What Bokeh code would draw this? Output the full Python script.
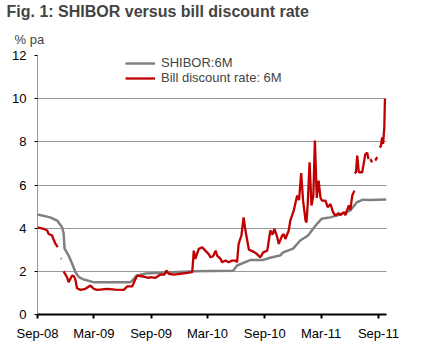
import numpy as np
import pandas as pd
from bokeh.plotting import figure
from bokeh.models import (Title, FixedTicker, DatetimeTickFormatter, Legend,
                          LegendItem, Range1d, ColumnDataSource)
from bokeh.embed import file_html
from bokeh.resources import INLINE

nan = np.nan

# SHIBOR 6M (% pa)
shibor_dates = ["2008-09-01", "2008-10-12", "2008-11-03", "2008-11-19", "2008-11-24",
                "2008-11-27", "2008-12-10", "2008-12-21", "2009-01-01", "2009-01-12",
                "2009-01-28", "2009-02-28", "2009-06-26", "2009-07-06", "2009-07-16",
                "2009-08-14", "2010-01-15", "2010-05-22", "2010-06-04", "2010-07-16",
                "2010-08-28", "2010-09-18", "2010-10-20", "2010-10-30", "2010-12-01",
                "2010-12-24", "2011-01-18", "2011-02-10", "2011-03-03", "2011-03-30",
                "2011-04-20", "2011-06-02", "2011-06-24", "2011-07-14", "2011-08-05",
                "2011-09-27"]
shibor_vals = [4.63, 4.5, 4.35, 4.04, 3.75,
               3.05, 2.73, 2.36, 1.96, 1.73,
               1.62, 1.5, 1.5, 1.62, 1.8,
               1.9, 2.0, 2.03, 2.27, 2.52,
               2.53, 2.63, 2.73, 2.88, 3.05,
               3.43, 3.66, 4.1, 4.44, 4.5,
               4.58, 4.81, 5.2, 5.32, 5.31,
               5.33]

# Bill discount rate 6M (% pa); nan = gap in series
bill_dates = ["2008-09-01", "2008-09-21", "2008-10-02", "2008-10-07", "2008-10-18",
              "2008-10-23", "2008-10-29", "2008-11-05", "2008-11-10",
              "2008-11-15", "2008-11-17", "2008-11-20",
              "2008-11-24", "2008-11-30", "2008-12-04", "2008-12-10", "2008-12-21",
              "2008-12-27", "2009-01-01", "2009-01-06", "2009-01-17", "2009-02-02",
              "2009-02-18", "2009-03-01", "2009-03-12", "2009-04-13", "2009-05-09",
              "2009-06-05", "2009-06-16", "2009-07-02", "2009-07-13", "2009-07-18",
              "2009-08-08", "2009-08-24", "2009-08-30", "2009-09-15", "2009-10-01",
              "2009-10-14", "2009-10-20", "2009-10-28", "2009-11-13", "2009-12-15",
              "2010-01-11", "2010-01-16", "2010-01-21", "2010-02-01", "2010-02-12",
              "2010-02-22", "2010-03-05", "2010-03-11", "2010-03-19", "2010-03-27",
              "2010-04-01", "2010-04-12", "2010-04-17", "2010-04-28", "2010-05-08",
              "2010-05-19", "2010-05-30", "2010-06-04", "2010-06-09", "2010-06-18",
              "2010-06-25", "2010-07-01", "2010-07-12", "2010-07-28", "2010-08-07",
              "2010-08-18", "2010-08-27", "2010-09-09", "2010-09-14", "2010-09-19",
              "2010-09-26", "2010-10-02", "2010-10-11", "2010-10-16", "2010-10-27",
              "2010-11-01", "2010-11-06", "2010-11-17", "2010-11-22", "2010-12-03",
              "2010-12-14", "2010-12-20", "2010-12-27", "2011-01-02", "2011-01-10",
              "2011-01-13", "2011-01-17", "2011-01-23", "2011-01-29", "2011-02-04",
              "2011-02-09", "2011-02-15", "2011-02-21", "2011-02-27", "2011-03-04",
              "2011-03-15", "2011-03-22", "2011-03-31", "2011-04-08", "2011-04-16",
              "2011-04-26", "2011-05-02", "2011-05-13", "2011-05-18", "2011-05-29",
              "2011-06-03", "2011-06-09", "2011-06-16", "2011-06-17",
              "2011-06-17", "2011-06-21", "2011-06-25", "2011-06-30", "2011-07-11",
              "2011-07-21", "2011-07-27", "2011-07-31", "2011-08-03",
              "2011-08-06", "2011-08-12", "2011-08-17",
              "2011-08-22", "2011-08-28", "2011-09-01",
              "2011-09-05", "2011-09-09", "2011-09-13", "2011-09-16", "2011-09-18",
              "2011-09-20", "2011-09-22"]
bill_vals = [4.04, 3.97, 3.89, 3.73, 3.66,
             3.46, 3.27, 3.12, nan,
             2.6, 2.58, nan,
             2.0, 1.85, 1.75, 1.5, 1.8,
             1.78, 1.6, 1.22, 1.14, 1.19,
             1.34, 1.19, 1.14, 1.19, 1.15,
             1.14, 1.3, 1.3, 1.65, 1.8,
             1.76, 1.7, 1.73, 1.7, 1.85,
             1.85, 2.04, 1.88, 1.85, 1.91,
             1.96, 2.96, 2.58, 3.04, 3.12,
             2.96, 2.8, 2.65, 2.7, 2.96,
             2.73, 2.58, 2.42, 2.5, 2.42,
             2.5, 2.5, 2.42, 3.27, 3.66,
             4.5, 3.89, 3.0, 2.9, 2.8,
             2.65, 2.88, 2.96, 3.43, 3.89,
             3.7, 3.97, 3.58, 3.27, 3.66,
             3.73, 3.5, 3.89, 4.35, 4.81,
             5.51, 5.3, 6.55, 5.28, 4.35,
             4.27, 5.12, 7.05, 5.05, 5.5,
             8.06, 5.4, 6.2, 5.4, 5.28,
             5.28, 4.97, 5.12, 4.75, 4.58,
             4.7, 4.6, 4.74, 4.6, 5.05,
             4.85, 5.51, 5.74, nan,
             6.54, 6.6, 7.36, 6.59, 6.59,
             7.43, 7.5, 7.2, nan,
             7.2, 7.05, nan,
             7.13, 7.3, nan,
             7.74, 7.8, 8.2, 7.9, 8.3,
             8.67, 10.0]

x_tick_dates = ["2008-09-01", "2009-03-01", "2009-09-01", "2010-03-01",
                "2010-09-01", "2011-03-01", "2011-09-01"]
y_ticks = [0, 2, 4, 6, 8, 10, 12]

FONT = "Liberation Sans"

def ms(d):
    return pd.Timestamp(d).value // 10**6

p = figure(width=413, height=349, output_backend="svg", toolbar_location=None,
           x_axis_type="datetime",
           x_range=Range1d(ms("2008-09-01"), ms("2011-09-27")),
           y_range=Range1d(0, 12),
           min_border_left=37, min_border_right=27, min_border_top=55,
           min_border_bottom=35)
p.outline_line_color = None
p.background_fill_color = "white"

p.add_layout(Title(text="% pa", text_font=FONT, text_font_size="13px",
                   text_font_style="normal", align="left", offset=-23,
                   standoff=18), "above")
p.add_layout(Title(text="Fig. 1: SHIBOR versus bill discount rate", text_font=FONT,
                   text_font_size="16px", text_font_style="bold", align="left",
                   offset=-31, standoff=1), "above")

src_s = ColumnDataSource(dict(x=pd.to_datetime(shibor_dates), y=shibor_vals))
src_b = ColumnDataSource(dict(x=pd.to_datetime(bill_dates), y=bill_vals))

r_s = p.line("x", "y", source=src_s, line_color="#808080", line_width=2.5)
r_b = p.line("x", "y", source=src_b, line_color="#C00000", line_width=2.3)

# axes
xa = p.xaxis[0]
xa.ticker = FixedTicker(ticks=[ms(d) for d in x_tick_dates])
xa.formatter = DatetimeTickFormatter(days="%b-%y", months="%b-%y", years="%b-%y")
xa.axis_line_width = 2
xa.axis_line_color = "black"
xa.major_tick_in = 0
xa.major_tick_out = 4
xa.major_tick_line_width = 2
xa.minor_tick_line_color = None
xa.major_label_text_font = FONT
xa.major_label_text_font_size = "13px"
xa.major_label_text_color = "black"
xa.major_label_standoff = 7

ya = p.yaxis[0]
ya.ticker = FixedTicker(ticks=y_ticks)
ya.axis_line_dash = "1 1"
ya.axis_line_color = "#333333"
ya.major_tick_in = 0
ya.major_tick_out = 3
ya.minor_tick_line_color = None
ya.major_label_text_font = FONT
ya.major_label_text_font_size = "13px"
ya.major_label_text_color = "black"
ya.major_label_standoff = 8

p.xgrid.grid_line_color = None
p.ygrid.ticker = FixedTicker(ticks=y_ticks[1:])
p.ygrid.grid_line_color = "#333333"
p.ygrid.grid_line_dash = "1 1"
p.ygrid.grid_line_width = 1

legend = Legend(items=[LegendItem(label="SHIBOR:6M", renderers=[r_s]),
                       LegendItem(label="Bill discount rate: 6M", renderers=[r_b])],
                location=(88, 229), padding=0, margin=0, spacing=0,
                glyph_width=30, glyph_height=14, label_height=14, label_standoff=6,
                label_text_font=FONT, label_text_font_size="13px",
                border_line_alpha=0, background_fill_alpha=0)
p.add_layout(legend)

open("out.html", "w").write(file_html(p, INLINE))
